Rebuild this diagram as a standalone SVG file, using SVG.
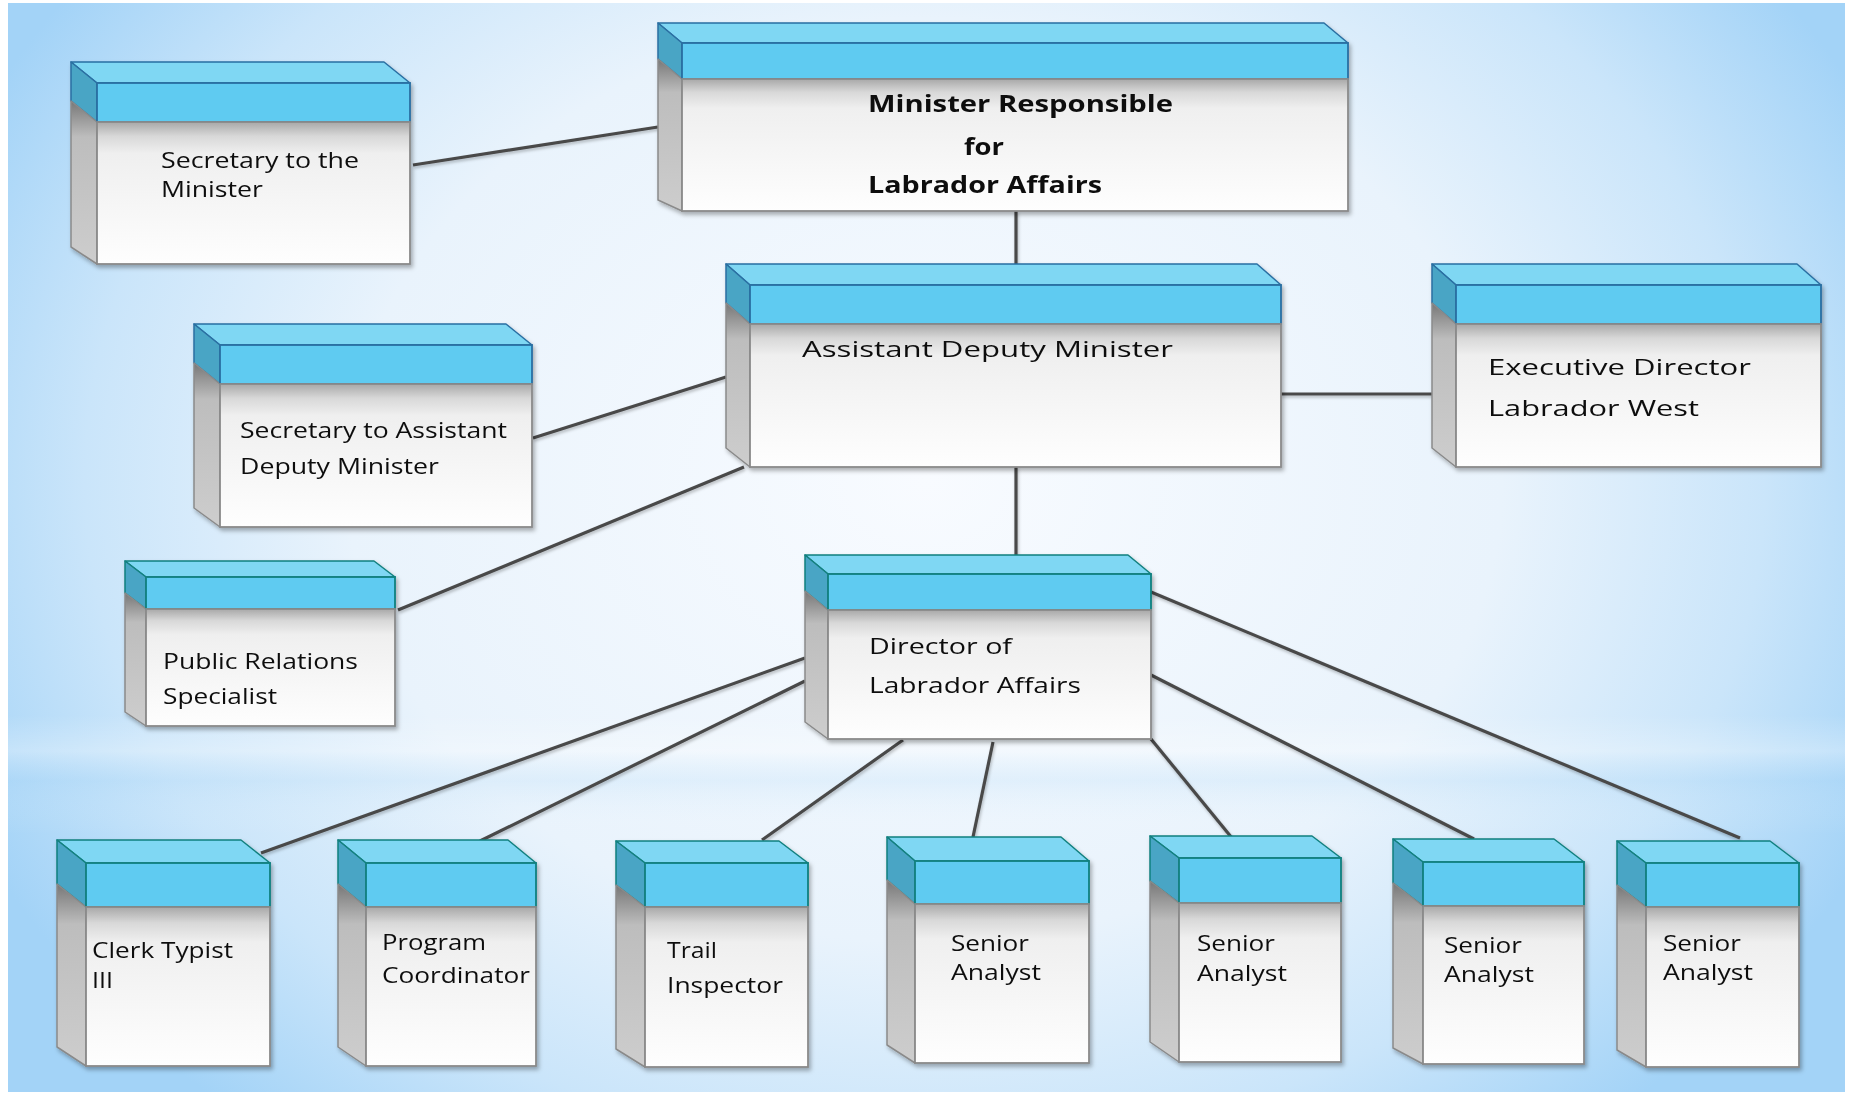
<svg xmlns="http://www.w3.org/2000/svg" width="1851" height="1094" viewBox="0 0 1851 1094">
<defs>
<radialGradient id="bg" cx="925" cy="480" r="1050" gradientUnits="userSpaceOnUse" gradientTransform="translate(925 480) scale(1 0.8) translate(-925 -480)">
<stop offset="0" stop-color="#f8fbff"/>
<stop offset="0.55" stop-color="#e9f3fc"/>
<stop offset="0.8" stop-color="#cae5fa"/>
<stop offset="1" stop-color="#a3d3f7"/>
</radialGradient>
<linearGradient id="band" x1="0" y1="0" x2="0" y2="1">
<stop offset="0" stop-color="#ffffff" stop-opacity="0"/>
<stop offset="0.3" stop-color="#ffffff" stop-opacity="0.28"/>
<stop offset="0.55" stop-color="#a9d6f6" stop-opacity="0.2"/>
<stop offset="1" stop-color="#ffffff" stop-opacity="0"/>
</linearGradient>
<linearGradient id="body" x1="0" y1="0" x2="0" y2="1">
<stop offset="0" stop-color="#a8a8a8"/>
<stop offset="0.1" stop-color="#d8d8d8"/>
<stop offset="0.22" stop-color="#efefef"/>
<stop offset="1" stop-color="#fefefe"/>
</linearGradient>
<linearGradient id="side" x1="0" y1="0" x2="0" y2="1">
<stop offset="0" stop-color="#777777"/>
<stop offset="0.22" stop-color="#bdbdbd"/>
<stop offset="1" stop-color="#cdcdcd"/>
</linearGradient>
<filter id="sh" x="-10%" y="-10%" width="120%" height="125%">
<feDropShadow dx="2" dy="3" stdDeviation="2" flood-color="#000" flood-opacity="0.3"/>
</filter>
<filter id="lsh" x="-5%" y="-5%" width="110%" height="120%">
<feDropShadow dx="1" dy="2" stdDeviation="1.5" flood-color="#000" flood-opacity="0.25"/>
</filter>
</defs>
<style>
.top{fill:#7fd7f3;stroke-width:1.5;stroke-linejoin:round}
.bside{fill:#4aa5c5;stroke-width:1.5;stroke-linejoin:round}
.bfront{fill:#5ecbf1;stroke-width:1.8}
.blue .top,.blue .bside,.blue .bfront{stroke:#2a6fa2}
.teal .top,.teal .bside,.teal .bfront{stroke:#12807f}
.gside{fill:url(#side);stroke:#8a8a8a;stroke-width:1.5;stroke-linejoin:round}
.bodyr{fill:url(#body);stroke:#8a8a8a;stroke-width:1.8}
.node{filter:url(#sh)}
text{font-family:"Open Sans","Liberation Sans",sans-serif;fill:#111;font-size:21px}
.b{font-weight:bold;font-size:23px}
#connectors line{stroke:#4a4a4a;stroke-width:3.2;stroke-linecap:butt}
</style>
<rect x="0" y="0" width="1851" height="1094" fill="#ffffff"/>
<rect x="8" y="3" width="1837" height="1089" fill="url(#bg)"/>
<rect x="8" y="715" width="1837" height="120" fill="url(#band)"/>

<g id="connectors" filter="url(#lsh)">
<line x1="413" y1="165" x2="658" y2="127"/>
<line x1="1016" y1="211" x2="1016" y2="264"/>
<line x1="1281" y1="394" x2="1432" y2="394"/>
<line x1="533" y1="438" x2="726" y2="377"/>
<line x1="398" y1="610" x2="744" y2="467"/>
<line x1="1016" y1="467" x2="1016" y2="555"/>
<line x1="805" y1="658" x2="261" y2="853"/>
<line x1="805" y1="681" x2="480" y2="841"/>
<line x1="903" y1="740" x2="762" y2="840"/>
<line x1="993" y1="742" x2="973" y2="837"/>
<line x1="1151" y1="739" x2="1232" y2="838"/>
<line x1="1151" y1="675" x2="1474" y2="839"/>
<line x1="1151" y1="592" x2="1740" y2="838"/>
</g>

<g id="secretary-minister" class="node blue">
<polygon class="top" points="71,62 384,62 410,83 97,83"/>
<polygon class="bside" points="71,62 97,83 97,122 71,101"/>
<polygon class="gside" points="71,101 97,122 97,264 71,247"/>
<rect class="bfront" x="97" y="83" width="313" height="39"/>
<rect class="bodyr" x="97" y="122" width="313" height="142"/>
<text x="161" y="168" font-size="22" textLength="198" lengthAdjust="spacingAndGlyphs">Secretary to the</text>
<text x="161" y="197" font-size="22" textLength="102" lengthAdjust="spacingAndGlyphs">Minister</text>
</g>

<g id="minister" class="node blue">
<polygon class="top" points="658,23 1324,23 1348,43 682,43"/>
<polygon class="bside" points="658,23 682,43 682,79 658,59"/>
<polygon class="gside" points="658,59 682,79 682,211 658,200"/>
<rect class="bfront" x="682" y="43" width="666" height="36"/>
<rect class="bodyr" x="682" y="79" width="666" height="132"/>
<text class="b" x="868" y="112" textLength="305" lengthAdjust="spacingAndGlyphs">Minister Responsible</text>
<text class="b" x="964" y="155" textLength="40" lengthAdjust="spacingAndGlyphs">for</text>
<text class="b" x="868" y="193" textLength="234" lengthAdjust="spacingAndGlyphs">Labrador Affairs</text>
</g>

<g id="assistant-deputy-minister" class="node blue">
<polygon class="top" points="726,264 1257,264 1281,285 750,285"/>
<polygon class="bside" points="726,264 750,285 750,324 726,303"/>
<polygon class="gside" points="726,303 750,324 750,467 726,448"/>
<rect class="bfront" x="750" y="285" width="531" height="39"/>
<rect class="bodyr" x="750" y="324" width="531" height="143"/>
<text x="802" y="357" font-size="23" textLength="371" lengthAdjust="spacingAndGlyphs">Assistant Deputy Minister</text>
</g>

<g id="executive-director" class="node blue">
<polygon class="top" points="1432,264 1797,264 1821,285 1456,285"/>
<polygon class="bside" points="1432,264 1456,285 1456,324 1432,303"/>
<polygon class="gside" points="1432,303 1456,324 1456,467 1432,448"/>
<rect class="bfront" x="1456" y="285" width="365" height="39"/>
<rect class="bodyr" x="1456" y="324" width="365" height="143"/>
<text x="1488" y="375" font-size="22" textLength="263" lengthAdjust="spacingAndGlyphs">Executive Director</text>
<text x="1488" y="416" font-size="22" textLength="211" lengthAdjust="spacingAndGlyphs">Labrador West</text>
</g>

<g id="secretary-adm" class="node blue">
<polygon class="top" points="194,324 506,324 532,345 220,345"/>
<polygon class="bside" points="194,324 220,345 220,384 194,363"/>
<polygon class="gside" points="194,363 220,384 220,527 194,508"/>
<rect class="bfront" x="220" y="345" width="312" height="39"/>
<rect class="bodyr" x="220" y="384" width="312" height="143"/>
<text x="240" y="438" textLength="267" lengthAdjust="spacingAndGlyphs">Secretary to Assistant</text>
<text x="240" y="474" textLength="199" lengthAdjust="spacingAndGlyphs">Deputy Minister</text>
</g>

<g id="public-relations" class="node teal">
<polygon class="top" points="125,561 374,561 395,577 146,577"/>
<polygon class="bside" points="125,561 146,577 146,609 125,593"/>
<polygon class="gside" points="125,593 146,609 146,726 125,712"/>
<rect class="bfront" x="146" y="577" width="249" height="32"/>
<rect class="bodyr" x="146" y="609" width="249" height="117"/>
<text x="163" y="669" font-size="22" textLength="195" lengthAdjust="spacingAndGlyphs">Public Relations</text>
<text x="163" y="704" font-size="22" textLength="114" lengthAdjust="spacingAndGlyphs">Specialist</text>
</g>

<g id="director" class="node teal">
<polygon class="top" points="805,555 1128,555 1151,574 828,574"/>
<polygon class="bside" points="805,555 828,574 828,610 805,591"/>
<polygon class="gside" points="805,591 828,610 828,739 805,722"/>
<rect class="bfront" x="828" y="574" width="323" height="36"/>
<rect class="bodyr" x="828" y="610" width="323" height="129"/>
<text x="869" y="654" textLength="143" lengthAdjust="spacingAndGlyphs">Director of</text>
<text x="869" y="693" textLength="212" lengthAdjust="spacingAndGlyphs">Labrador Affairs</text>
</g>

<g id="clerk-typist" class="node teal">
<polygon class="top" points="57,840 241,840 270,863 86,863"/>
<polygon class="bside" points="57,840 86,863 86,907 57,884"/>
<polygon class="gside" points="57,884 86,907 86,1066 57,1047"/>
<rect class="bfront" x="86" y="863" width="184" height="44"/>
<rect class="bodyr" x="86" y="907" width="184" height="159"/>
<text x="92" y="958" textLength="141" lengthAdjust="spacingAndGlyphs">Clerk Typist</text>
<text x="92" y="988" textLength="21" lengthAdjust="spacingAndGlyphs">III</text>
</g>

<g id="program-coordinator" class="node teal">
<polygon class="top" points="338,840 508,840 536,863 366,863"/>
<polygon class="bside" points="338,840 366,863 366,907 338,884"/>
<polygon class="gside" points="338,884 366,907 366,1066 338,1047"/>
<rect class="bfront" x="366" y="863" width="170" height="44"/>
<rect class="bodyr" x="366" y="907" width="170" height="159"/>
<text x="382" y="950" textLength="104" lengthAdjust="spacingAndGlyphs">Program</text>
<text x="382" y="983" textLength="148" lengthAdjust="spacingAndGlyphs">Coordinator</text>
</g>

<g id="trail-inspector" class="node teal">
<polygon class="top" points="616,841 779,841 808,863 645,863"/>
<polygon class="bside" points="616,841 645,863 645,907 616,885"/>
<polygon class="gside" points="616,885 645,907 645,1067 616,1049"/>
<rect class="bfront" x="645" y="863" width="163" height="44"/>
<rect class="bodyr" x="645" y="907" width="163" height="160"/>
<text x="667" y="958" textLength="50" lengthAdjust="spacingAndGlyphs">Trail</text>
<text x="667" y="993" textLength="116" lengthAdjust="spacingAndGlyphs">Inspector</text>
</g>

<g id="senior-analyst-1" class="node teal">
<polygon class="top" points="887,837 1061,837 1089,861 915,861"/>
<polygon class="bside" points="887,837 915,861 915,904 887,880"/>
<polygon class="gside" points="887,880 915,904 915,1063 887,1045"/>
<rect class="bfront" x="915" y="861" width="174" height="43"/>
<rect class="bodyr" x="915" y="904" width="174" height="159"/>
<text x="951" y="951" textLength="78" lengthAdjust="spacingAndGlyphs">Senior</text>
<text x="951" y="980" textLength="90" lengthAdjust="spacingAndGlyphs">Analyst</text>
</g>

<g id="senior-analyst-2" class="node teal">
<polygon class="top" points="1150,836 1312,836 1341,858 1179,858"/>
<polygon class="bside" points="1150,836 1179,858 1179,903 1150,881"/>
<polygon class="gside" points="1150,881 1179,903 1179,1062 1150,1042"/>
<rect class="bfront" x="1179" y="858" width="162" height="45"/>
<rect class="bodyr" x="1179" y="903" width="162" height="159"/>
<text x="1197" y="951" textLength="78" lengthAdjust="spacingAndGlyphs">Senior</text>
<text x="1197" y="981" textLength="90" lengthAdjust="spacingAndGlyphs">Analyst</text>
</g>

<g id="senior-analyst-3" class="node teal">
<polygon class="top" points="1393,839 1554,839 1584,862 1423,862"/>
<polygon class="bside" points="1393,839 1423,862 1423,906 1393,883"/>
<polygon class="gside" points="1393,883 1423,906 1423,1064 1393,1048"/>
<rect class="bfront" x="1423" y="862" width="161" height="44"/>
<rect class="bodyr" x="1423" y="906" width="161" height="158"/>
<text x="1444" y="953" textLength="78" lengthAdjust="spacingAndGlyphs">Senior</text>
<text x="1444" y="982" textLength="90" lengthAdjust="spacingAndGlyphs">Analyst</text>
</g>

<g id="senior-analyst-4" class="node teal">
<polygon class="top" points="1617,841 1770,841 1799,863 1646,863"/>
<polygon class="bside" points="1617,841 1646,863 1646,907 1617,885"/>
<polygon class="gside" points="1617,885 1646,907 1646,1067 1617,1050"/>
<rect class="bfront" x="1646" y="863" width="153" height="44"/>
<rect class="bodyr" x="1646" y="907" width="153" height="160"/>
<text x="1663" y="951" textLength="78" lengthAdjust="spacingAndGlyphs">Senior</text>
<text x="1663" y="980" textLength="90" lengthAdjust="spacingAndGlyphs">Analyst</text>
</g>
</svg>
